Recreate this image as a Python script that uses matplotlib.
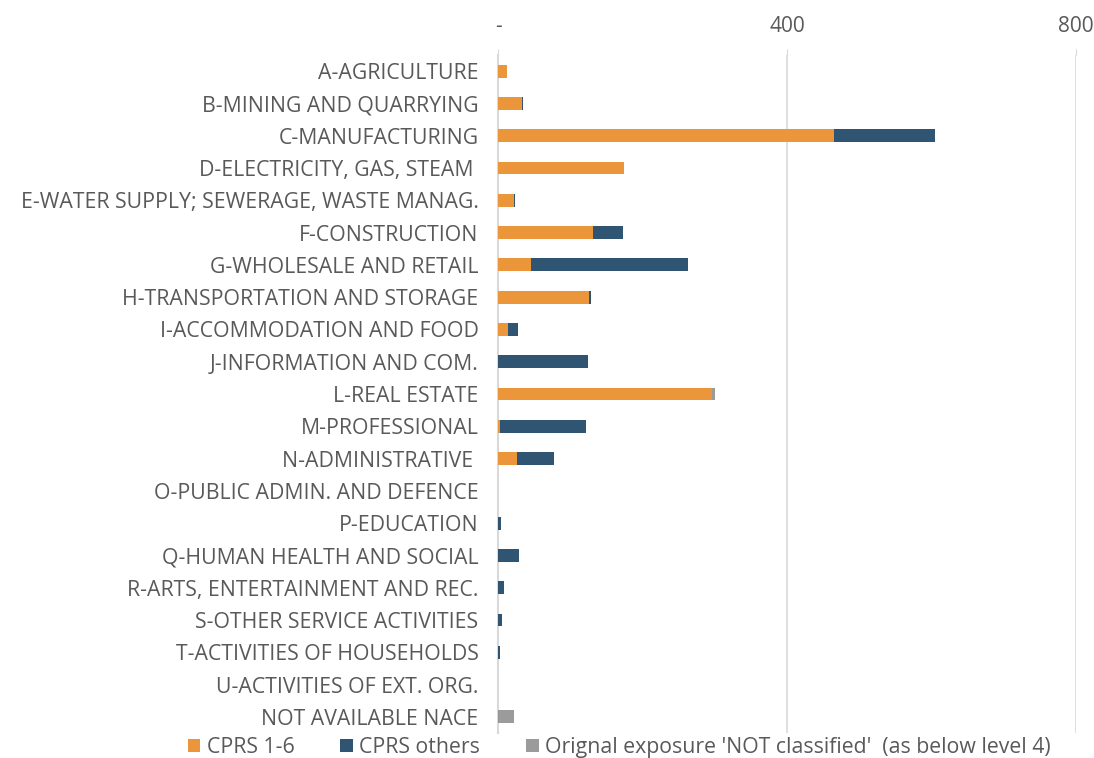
import numpy as np
import matplotlib.pyplot as plt

categories = [
    "A-AGRICULTURE",
    "B-MINING AND QUARRYING",
    "C-MANUFACTURING",
    "D-ELECTRICITY, GAS, STEAM ",
    "E-WATER SUPPLY; SEWERAGE, WASTE MANAG.",
    "F-CONSTRUCTION",
    "G-WHOLESALE AND RETAIL",
    "H-TRANSPORTATION AND STORAGE",
    "I-ACCOMMODATION AND FOOD",
    "J-INFORMATION AND COM.",
    "L-REAL ESTATE",
    "M-PROFESSIONAL",
    "N-ADMINISTRATIVE ",
    "O-PUBLIC ADMIN. AND DEFENCE",
    "P-EDUCATION",
    "Q-HUMAN HEALTH AND SOCIAL",
    "R-ARTS, ENTERTAINMENT AND REC.",
    "S-OTHER SERVICE ACTIVITIES",
    "T-ACTIVITIES OF HOUSEHOLDS",
    "U-ACTIVITIES OF EXT. ORG.",
    "NOT AVAILABLE NACE",
]
cprs_1_6 = [12, 33, 465, 174, 22, 131, 46, 126, 14, 0, 296, 3, 26, 0.5, 0, 0, 0, 0, 0, 0, 0]
cprs_others = [0, 2, 140, 0, 1, 42, 217, 3, 14, 125, 0, 119, 52, 0, 4, 29, 8, 5, 3, 0, 0]
not_classified = [0, 0, 0, 0, 0, 0, 0, 0, 0, 0, 5, 0, 0, 0, 0, 0, 0, 0, 0, 0, 22]

orange = "#EC963C"
blue = "#2F5573"
grey = "#8A8A8A"
text_col = "#595959"

plt.rcParams['font.family'] = ['Open Sans', 'DejaVu Sans']

fig = plt.figure(figsize=(10.94, 7.58), dpi=100)
ax = fig.add_axes([498 / 1094, 1 - 733 / 758, (1076 - 498) / 1094, (733 - 55) / 758])

y = np.arange(len(categories))
a = np.array(cprs_1_6)
b = np.array(cprs_others)
c = np.array(not_classified)
h = 0.4
ax.barh(y, a, height=h, color=orange, label="CPRS 1-6", zorder=3)
ax.barh(y, b, left=a, height=h, color=blue, label="CPRS others", zorder=3)
ax.barh(y, c, left=a + b, height=h, color=grey, alpha=0.85,
        label="Orignal exposure 'NOT classified'  (as below level 4)", zorder=3)

ax.set_ylim(len(categories) - 0.5, -0.5)
ax.set_xlim(0, 800)
ax.set_yticks(y)
ax.set_yticklabels(categories, fontsize=15.3, color=text_col)
ax.set_xticks([0, 400, 800])
ax.set_xticklabels(["-", "400", "800"], fontsize=15, color=text_col)
ax.xaxis.tick_top()
ax.tick_params(axis='x', length=4, color="#d9d9d9", pad=9)
ax.tick_params(axis='y', length=0, pad=14)
ax.grid(axis='x', color="#d9d9d9", linewidth=1.2, zorder=0)
for s in ["top", "right", "bottom"]:
    ax.spines[s].set_visible(False)
ax.spines["left"].set_color("#d9d9d9")
ax.spines["left"].set_linewidth(1.5)

handles, labels = ax.get_legend_handles_labels()
fig.legend(handles, labels, loc="lower center", bbox_to_anchor=(0.566, -0.025), ncol=3,
           frameon=False, fontsize=15.3, labelcolor=text_col, handlelength=0.6,
           handleheight=0.6, handletextpad=0.3, columnspacing=2.15)

fig.savefig("out.png", dpi=100)
